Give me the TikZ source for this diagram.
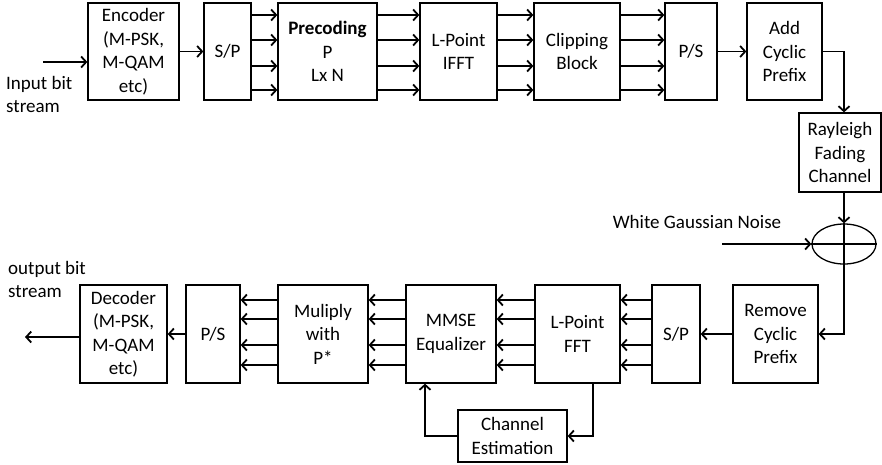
\documentclass[tikz,border=0pt]{standalone}
\usepackage{fontspec}
\setmainfont{Carlito}
\usetikzlibrary{arrows.meta,shapes.geometric}

\tikzset{
  blk/.style={draw=black,line width=1.3pt,fill=white,align=center,inner sep=0pt,
    font=\fontsize{19}{23.5}\selectfont},
  lbl/.style={align=left,inner sep=0pt,font=\fontsize{19}{23.5}\selectfont},
  arr/.style={line width=1.4pt,-{Straight Barb[length=5pt,width=11pt,line width=1.8pt]}}
}

\begin{document}
\begin{tikzpicture}[x=1pt,y=-1pt]
\useasboundingbox (0,0) rectangle (882,464);
% transmitter:
\node[blk,minimum width=91pt,minimum height=97pt] (enc) at (133.5,51.5) {Encoder\\(M-PSK,\\M-QAM\\etc)};
\node[blk,minimum width=47pt,minimum height=97pt] (sp) at (227.5,51.5) {S/P};
\node[blk,minimum width=99pt,minimum height=97pt] (prec) at (327.5,51.5) {\textbf{Precoding}\\P\\Lx N};
\node[blk,minimum width=77pt,minimum height=97pt] (ifft) at (458.5,51.5) {L-Point\\IFFT};
\node[blk,minimum width=86pt,minimum height=97pt] (clip) at (577,51.5) {Clipping\\Block};
\node[blk,minimum width=52pt,minimum height=97pt] (ps) at (691,51.5) {P/S};
\node[blk,minimum width=75pt,minimum height=97pt] (acp) at (784.5,51.5) {Add\\Cyclic\\Prefix};
% channel:
\node[blk,minimum width=82pt,minimum height=79pt] (ray) at (840,152.5) {Rayleigh\\Fading\\Channel};
\node[draw=black,line width=1.3pt,ellipse,minimum width=64pt,minimum height=40pt,inner sep=0pt] (noise) at (844,244) {};
\draw[line width=1.3pt] (noise.north) -- (noise.south) (noise.west) -- (noise.east);
\node[lbl] (noiselbl) at (697,222) {White Gaussian Noise};
% receiver:
\node[blk,minimum width=85pt,minimum height=98pt] (rcp) at (775.5,334) {Remove\\Cyclic\\Prefix};
\node[blk,minimum width=48pt,minimum height=98pt] (sp2) at (676,334) {S/P};
\node[blk,minimum width=85pt,minimum height=98pt] (fft) at (577.5,334) {L-Point\\FFT};
\node[blk,minimum width=90pt,minimum height=98pt] (mmse) at (451,334) {MMSE\\Equalizer};
\node[blk,minimum width=90pt,minimum height=98pt] (mul) at (323,334) {Muliply\\with\\P*};
\node[blk,minimum width=54pt,minimum height=98pt] (ps2) at (213,334) {P/S};
\node[blk,minimum width=87pt,minimum height=98pt] (dec) at (123.5,334) {Decoder\\(M-PSK,\\M-QAM\\etc)};
\node[blk,minimum width=109pt,minimum height=52pt] (chest) at (512.5,436) {Channel\\Estimation};
% labels:
\node[lbl,anchor=north west] (inlbl) at (6,76) {Input bit\\stream};
\node[lbl,anchor=north west] (outlbl) at (8,261) {output bit\\stream};
\coordinate (in) at (43,62);
\coordinate (out) at (25,337);
\coordinate (wgn) at (722,244);
% connectors:
\draw[arr] (in) -- (in -| enc.west);
\draw[arr] (enc.east) -- (sp.west);
\foreach \y in {15,40,66,90} {
  \draw[arr] (sp.east |- 0,\y) -- (prec.west |- 0,\y);
  \draw[arr] (prec.east |- 0,\y) -- (ifft.west |- 0,\y);
  \draw[arr] (ifft.east |- 0,\y) -- (clip.west |- 0,\y);
  \draw[arr] (clip.east |- 0,\y) -- (ps.west |- 0,\y);
}
\draw[arr] (ps.east) -- (acp.west);
\draw[arr] (acp.east) -| ([xshift=4pt]ray.north);
\draw[arr] ([xshift=4pt]ray.south) -- (noise.north);
\draw[arr] (wgn) -- (noise.west);
\draw[arr] (noise.south) |- (rcp.east);
\draw[arr] (rcp.west) -- (sp2.east);
\foreach \y in {300,319,345,365} {
  \draw[arr] (sp2.west |- 0,\y) -- (fft.east |- 0,\y);
  \draw[arr] (fft.west |- 0,\y) -- (mmse.east |- 0,\y);
  \draw[arr] (mmse.west |- 0,\y) -- (mul.east |- 0,\y);
  \draw[arr] (mul.west |- 0,\y) -- (ps2.east |- 0,\y);
}
\draw[arr] (ps2.west) -- (dec.east);
\draw[arr] (dec.west |- out) -- (out);
\draw[arr] ([xshift=15.5pt]fft.south) |- (chest.east);
\draw[arr] (chest.west) -| ([xshift=-26pt]mmse.south);
\end{tikzpicture}
\end{document}
